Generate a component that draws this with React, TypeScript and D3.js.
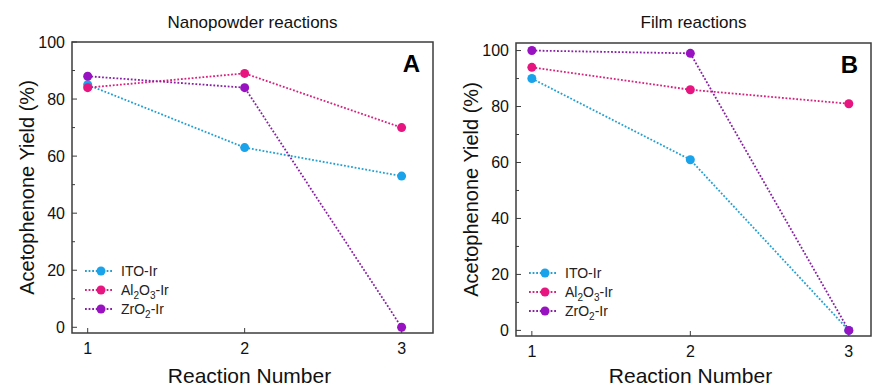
import React, { useRef, useEffect } from "react";
import * as d3 from "d3";

const reactions = [1, 2, 3];
const series = ["ITO-Ir", "Al2O3-Ir", "ZrO2-Ir"];
const nanoITO = [85, 63, 53];
const nanoAl2O3 = [84, 89, 70];
const nanoZrO2 = [88, 84, 0];
const filmITO = [90, 61, 0];
const filmAl2O3 = [94, 86, 81];
const filmZrO2 = [100, 99, 0];
const yTicks = [0, 20, 40, 60, 80, 100];
const yMinorTicks = [10, 30, 50, 70, 90];

const colors = ["#1aa3ea", "#e6157f", "#9912c2"];
const lineColors = ["#22a0d2", "#d8207f", "#8a1fa6"];
const FONT = "'Liberation Sans', Arial, sans-serif";

type Panel = {
  title: string;
  letter: string;
  data: number[][];
  frame: { l: number; t: number; r: number; b: number };
  xDom: [number, number];
  yDom: [number, number];
  labelX: number;
  legend: { x: number; y: number };
};

const panels: Panel[] = [
  {
    title: "Nanopowder reactions",
    letter: "A",
    data: [nanoITO, nanoAl2O3, nanoZrO2],
    frame: { l: 72, t: 42, r: 433, b: 333 },
    xDom: [0.9, 3.2],
    yDom: [-2, 100],
    labelX: 27,
    legend: { x: 85, y: 271 },
  },
  {
    title: "Film reactions",
    letter: "B",
    data: [filmITO, filmAl2O3, filmZrO2],
    frame: { l: 516, t: 43, r: 871, b: 336 },
    xDom: [0.9, 3.14],
    yDom: [-2, 102.7],
    labelX: 471,
    legend: { x: 529, y: 273 },
  },
];

// digits after letters become subscripts (Al2O3 -> Al₂O₃), but not in "-Ir"
function addLabel(sel: any, name: string) {
  const parts = name.split(/(\d)/).filter((s) => s.length);
  let sub = false;
  parts.forEach((s) => {
    const isDigit = /^\d$/.test(s);
    const ts = sel.append("tspan").text(s);
    if (isDigit && !sub) {
      ts.attr("font-size", "10px").attr("dy", 4);
      sub = true;
    } else if (!isDigit && sub) {
      ts.attr("dy", -4);
      sub = false;
    }
  });
}

export default function App() {
  const svgRef = useRef<SVGSVGElement>(null);

  useEffect(() => {
    const svg = d3.select(svgRef.current);
    svg.selectAll("*").remove();
    svg.append("rect").attr("width", 872).attr("height", 387).attr("fill", "#fff");

    panels.forEach((p) => {
      const { l, t, r, b } = p.frame;
      const x = d3.scaleLinear().domain(p.xDom).range([l, r]);
      const y = d3.scaleLinear().domain(p.yDom).range([b, t]);
      const g = svg.append("g").attr("font-family", FONT);

      // frame
      g.append("rect")
        .attr("x", l)
        .attr("y", t)
        .attr("width", r - l)
        .attr("height", b - t)
        .attr("fill", "none")
        .attr("stroke", "#3c3c3c")
        .attr("stroke-width", 1.5);

      // y ticks (inward)
      g.selectAll("line.ymaj")
        .data(yTicks)
        .join("line")
        .attr("x1", l)
        .attr("x2", l + 5)
        .attr("y1", (d) => y(d))
        .attr("y2", (d) => y(d))
        .attr("stroke", "#3c3c3c");
      g.selectAll("line.ymin")
        .data(yMinorTicks)
        .join("line")
        .attr("x1", l)
        .attr("x2", l + 3)
        .attr("y1", (d) => y(d))
        .attr("y2", (d) => y(d))
        .attr("stroke", "#3c3c3c");
      g.selectAll("text.ytick")
        .data(yTicks)
        .join("text")
        .attr("x", l - 7)
        .attr("y", (d) => y(d))
        .attr("dy", "0.36em")
        .attr("text-anchor", "end")
        .attr("font-size", "16px")
        .attr("fill", "#111")
        .text((d) => d);

      // x ticks (inward)
      g.selectAll("line.xt")
        .data(reactions)
        .join("line")
        .attr("x1", (d) => x(d))
        .attr("x2", (d) => x(d))
        .attr("y1", b)
        .attr("y2", b - 5)
        .attr("stroke", "#3c3c3c");
      g.selectAll("text.xtick")
        .data(reactions)
        .join("text")
        .attr("x", (d) => x(d))
        .attr("y", b + 21)
        .attr("text-anchor", "middle")
        .attr("font-size", "16px")
        .attr("fill", "#111")
        .text((d) => d);

      // titles and axis labels
      g.append("text")
        .attr("x", (l + r) / 2)
        .attr("y", 28)
        .attr("text-anchor", "middle")
        .attr("font-size", "17px")
        .attr("fill", "#111")
        .text(p.title);
      g.append("text")
        .attr("x", (l + r) / 2 - 3)
        .attr("y", 383)
        .attr("text-anchor", "middle")
        .attr("font-size", "21px")
        .attr("fill", "#111")
        .text("Reaction Number");
      g.append("text")
        .attr("transform", `translate(${p.labelX + 7},${(t + b) / 2}) rotate(-90)`)
        .attr("text-anchor", "middle")
        .attr("font-size", "20px")
        .attr("fill", "#111")
        .text("Acetophenone Yield (%)");
      g.append("text")
        .attr("x", r - 13)
        .attr("y", t + 30)
        .attr("text-anchor", "end")
        .attr("font-size", "24px")
        .attr("font-weight", "bold")
        .attr("fill", "#000")
        .text(p.letter);

      // series
      const line = d3
        .line<number>()
        .x((_, i) => x(reactions[i]))
        .y((d) => y(d));
      p.data.forEach((vals, si) => {
        g.append("path")
          .attr("d", line(vals))
          .attr("fill", "none")
          .attr("stroke", lineColors[si])
          .attr("stroke-width", 1.8)
          .attr("stroke-dasharray", "1.8,1.8");
      });
      p.data.forEach((vals, si) => {
        g.selectAll(`circle.s${si}`)
          .data(vals)
          .join("circle")
          .attr("class", `s${si}`)
          .attr("cx", (_, i) => x(reactions[i]))
          .attr("cy", (d) => y(d))
          .attr("r", 4.5)
          .attr("fill", colors[si]);
      });

      // legend
      series.forEach((name, si) => {
        const ly = p.legend.y + si * 19;
        g.append("line")
          .attr("x1", p.legend.x)
          .attr("x2", p.legend.x + 28)
          .attr("y1", ly)
          .attr("y2", ly)
          .attr("stroke", lineColors[si])
          .attr("stroke-width", 1.8)
          .attr("stroke-dasharray", "1.8,1.8");
        g.append("circle")
          .attr("cx", p.legend.x + 16)
          .attr("cy", ly)
          .attr("r", 4.5)
          .attr("fill", colors[si]);
        const tx = g
          .append("text")
          .attr("x", p.legend.x + 36)
          .attr("y", ly + 5)
          .attr("font-size", "14px")
          .attr("fill", "#222");
        addLabel(tx, name);
      });
    });
  }, []);

  return (
    <svg
      ref={svgRef}
      width={872}
      height={387}
      style={{ position: "absolute", left: 0, top: 0 }}
    />
  );
}
